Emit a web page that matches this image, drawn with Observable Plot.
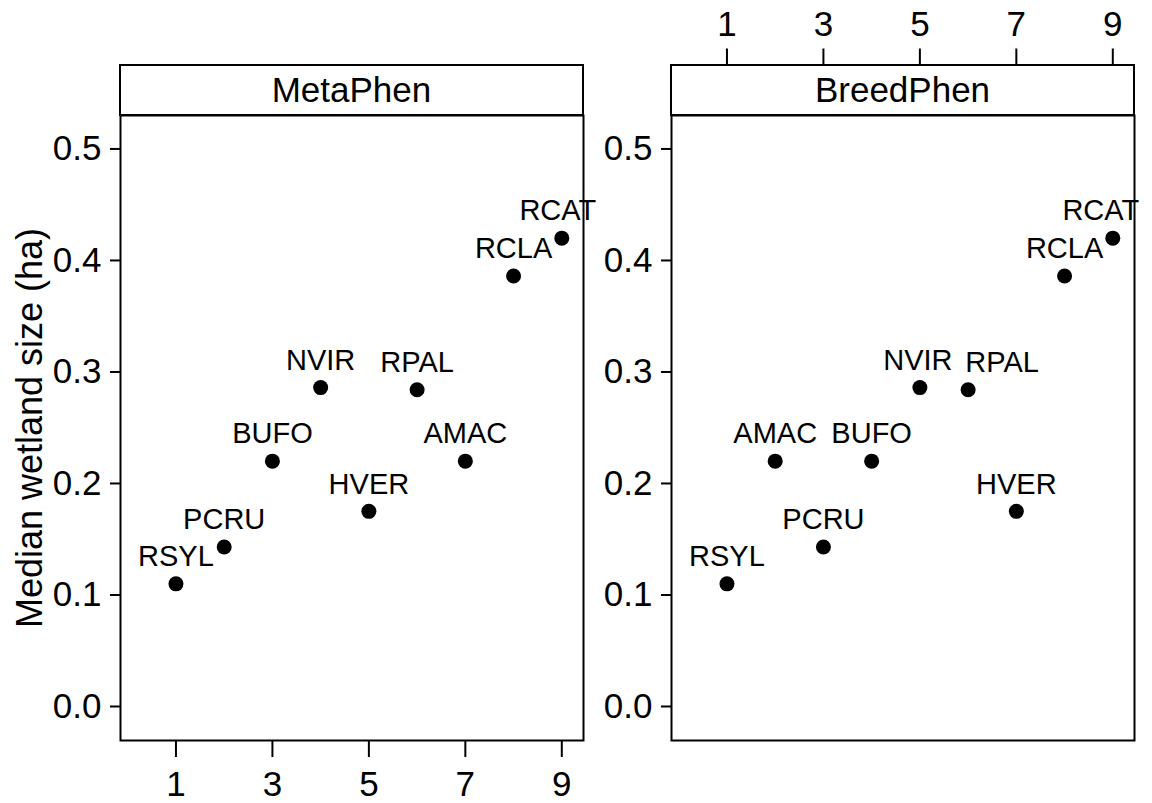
<!DOCTYPE html>
<html>
<head>
<meta charset="utf-8">
<script src="https://cdn.jsdelivr.net/npm/d3@7"></script>
<script src="https://cdn.jsdelivr.net/npm/@observablehq/plot@0.6"></script>
<style>
  html, body { margin: 0; padding: 0; background: #fff; }
  #wrap { position: relative; width: 1152px; height: 803px; font-family: "Liberation Sans", Arial, sans-serif; }
  #wrap > svg { position: absolute; top: 0; }
  .strip { position: absolute; box-sizing: border-box; border: 2px solid #000; background: #fff;
           display: flex; align-items: center; justify-content: center; font-size: 35px; color: #000; }
</style>
</head>
<body>
<div id="wrap"></div>
<script>
// ---- data ----
const species   = ["RSYL", "PCRU", "BUFO", "NVIR", "HVER", "RPAL", "AMAC", "RCLA", "RCAT"];
const metaRank  = [1, 2, 3, 4, 5, 6, 7, 8, 9];
const breedRank = [1, 3, 4, 5, 7, 6, 2, 8, 9];
const wetland   = [0.11, 0.143, 0.22, 0.286, 0.175, 0.284, 0.22, 0.386, 0.42];
const panels    = ["MetaPhen", "BreedPhen"];
const xTicks    = [1, 3, 5, 7, 9];
const yTicks    = [0, 0.1, 0.2, 0.3, 0.4, 0.5];

const rowsMeta  = species.map((s, i) => ({sp: s, x: metaRank[i], y: wetland[i]}));
const rowsBreed = species.map((s, i) => ({sp: s, x: breedRank[i], y: wetland[i]}));

const FONT = "Liberation Sans, Arial, sans-serif";
const xDomain = [-0.15, 9.45];
const yDomain = [-0.0305, 0.53];

function panel(rows, opts) {
  const nudged = opts.nudge || {};
  const isPlain = d => !(d.sp in nudged);
  const labelOpts = {x: "x", y: "y", text: "sp", dy: -27, fontSize: 29, fill: "#000",
                     textAnchor: "middle", lineAnchor: "middle"};
  const marks = [
    Plot.frame({stroke: "#000", strokeWidth: 2}),
    Plot.axisY({ticks: yTicks, tickFormat: d3.format(".1f"), tickSize: 10, tickPadding: 9,
                fontSize: 35, strokeWidth: 2,
                label: opts.yLabel ? "Median wetland size (ha)" : null,
                labelAnchor: "center", labelArrow: "none", labelOffset: 104}),
    opts.xTop
      ? Plot.axisX({anchor: "top", ticks: xTicks, tickSize: 17, tickPadding: 12, fontSize: 35,
                    strokeWidth: 2, label: null, dy: -50.5})
      : Plot.axisX({anchor: "bottom", ticks: xTicks, tickSize: 17, tickPadding: 14, fontSize: 35,
                    strokeWidth: 2, label: null}),
    Plot.dot(rows, {x: "x", y: "y", r: 7.5, fill: "#000", stroke: "none"}),
    Plot.text(rows.filter(isPlain), labelOpts),
    ...Object.entries(nudged).map(([sp, dx]) =>
      Plot.text(rows.filter(d => d.sp === sp), {...labelOpts, dx}))
  ];
  return Plot.plot({
    width: opts.width, height: 803,
    marginLeft: opts.ml, marginRight: opts.mr, marginTop: 115, marginBottom: 63,
    style: {fontFamily: FONT, background: "transparent", overflow: "visible", color: "#000"},
    x: {domain: xDomain},
    y: {domain: yDomain},
    marks
  });
}

const wrap = document.getElementById("wrap");
const left = panel(rowsMeta, {width: 600, ml: 120, mr: 17, yLabel: true, xTop: false,
                              nudge: {RCAT: -4}});
left.style.left = "0px";
wrap.appendChild(left);
const right = panel(rowsBreed, {width: 552, ml: 71, mr: 18, yLabel: false, xTop: true,
                                nudge: {RPAL: 34, RCAT: -12, NVIR: -2}});
right.style.left = "600px";
wrap.appendChild(right);

// y title a bit larger than the tick labels
left.querySelectorAll("text").forEach(t => {
  if (t.textContent.trim() === "Median wetland size (ha)") t.setAttribute("font-size", 36);
});

// strips
[[120, panels[0]], [671, panels[1]]].forEach(([l, name]) => {
  const d = document.createElement("div");
  d.className = "strip";
  d.style.left = (l - 1) + "px";
  d.style.top = "63.5px";
  d.style.width = "465px";
  d.style.height = "52.5px";
  d.textContent = name;
  wrap.appendChild(d);
});
</script>
</body>
</html>
